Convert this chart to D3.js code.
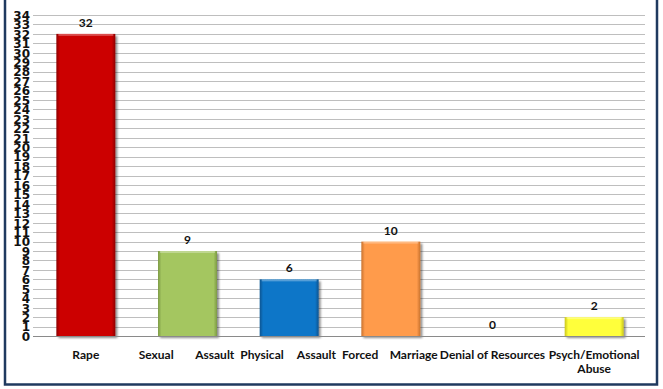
<!DOCTYPE html>
<html>
<head>
<meta charset="utf-8">
<script src="https://cdn.jsdelivr.net/npm/d3@7"></script>
<style>
  html, body { margin: 0; padding: 0; background: #fff; }
  svg { display: block; }
</style>
</head>
<body>
<svg id="chart" width="663" height="389"></svg>
<script>
// Reported cases by type of violence
const categories = ["Rape", "Sexual Assault", "Physical Assault", "Forced Marriage", "Denial of Resources", "Psych/Emotional Abuse"];
const values = [32, 9, 6, 10, 0, 2];
const barColors = ["#CC0000", "#A4C661", "#0A76C8", "#FF9B4C", "#FF9B4C", "#FFFF3A"];
const edgeColors = ["#8E0000", "#7C9A44", "#0A5390", "#C8722F", "#C8722F", "#C9C51C"];
const yTicks = d3.range(0, 35);

const svg = d3.select("#chart");
const W = 663, H = 389;

// Frame
svg.append("rect").attr("x", 0).attr("y", 0).attr("width", W).attr("height", H).attr("fill", "#fff");
svg.append("path")
  .attr("d", `M5,-2 V384.5 H657 V-2`)
  .attr("fill", "none").attr("stroke", "#1F3A5F").attr("stroke-width", 2.5);

const x = d3.scaleBand().domain(categories).range([35, 645]).paddingInner(0.42).paddingOuter(0.21);
const y = d3.scaleLinear().domain([0, 34]).range([336, 15]);

const rows = categories.map((c, i) => ({ c, v: values[i], i }));

// Shadow and bevel definitions
const defs = svg.append("defs");
const sh = defs.append("filter").attr("id", "shadow").attr("x", "-10%").attr("y", "-10%").attr("width", "130%").attr("height", "130%");
sh.append("feGaussianBlur").attr("in", "SourceAlpha").attr("stdDeviation", 1.2).attr("result", "b");
sh.append("feOffset").attr("in", "b").attr("dx", 1.5).attr("dy", 1.5).attr("result", "o");
sh.append("feComponentTransfer").attr("in", "o").attr("result", "o2")
  .append("feFuncA").attr("type", "linear").attr("slope", 0.45);
const mg = sh.append("feMerge");
mg.append("feMergeNode").attr("in", "o2");
mg.append("feMergeNode").attr("in", "SourceGraphic");

rows.forEach(d => {
  const g = defs.append("linearGradient").attr("id", "g" + d.i).attr("x1", 0).attr("x2", 1).attr("y1", 0).attr("y2", 0);
  g.append("stop").attr("offset", "0").attr("stop-color", edgeColors[d.i]);
  g.append("stop").attr("offset", "0.06").attr("stop-color", barColors[d.i]);
  g.append("stop").attr("offset", "0.94").attr("stop-color", barColors[d.i]);
  g.append("stop").attr("offset", "1").attr("stop-color", edgeColors[d.i]);
});

// Gridlines
svg.append("g").selectAll("line").data(yTicks.filter(d => d > 0)).join("line")
  .attr("x1", 33).attr("x2", 645)
  .attr("y1", d => Math.round(y(d)) + 0.5).attr("y2", d => Math.round(y(d)) + 0.5)
  .attr("stroke", "#BEBEBE").attr("stroke-width", 1);

// Y axis labels
const yAxis = d3.axisLeft(y).tickValues(yTicks).tickSize(0).tickPadding(0).tickFormat(d3.format("d"));
const ya = svg.append("g").attr("transform", "translate(30,0)").call(yAxis);
ya.select(".domain").remove();
ya.selectAll("text")
  .attr("font-family", "'DejaVu Sans', sans-serif").attr("font-weight", "bold")
  .attr("font-size", 12).attr("fill", "#111").attr("dy", "0.36em");

// Bars
const withBar = rows.filter(d => d.v > 0);
svg.append("g").selectAll("rect").data(withBar).join("rect")
  .attr("x", d => x(d.c))
  .attr("y", d => y(d.v))
  .attr("width", x.bandwidth())
  .attr("height", d => y(0) - y(d.v))
  .attr("fill", d => `url(#g${d.i})`)
  .attr("filter", "url(#shadow)");

// Top highlight of bars
svg.append("g").selectAll("rect").data(withBar).join("rect")
  .attr("x", d => x(d.c) + 2)
  .attr("y", d => y(d.v))
  .attr("width", x.bandwidth() - 4)
  .attr("height", 2)
  .attr("fill", "#fff").attr("opacity", 0.3);

// Baseline
svg.append("line").attr("x1", 33).attr("x2", 645)
  .attr("y1", Math.round(y(0)) + 0.5).attr("y2", Math.round(y(0)) + 0.5)
  .attr("stroke", "#8A8A8A").attr("stroke-width", 1);

// Value labels
svg.append("g").selectAll("text").data(rows).join("text")
  .attr("x", d => x(d.c) + x.bandwidth() / 2)
  .attr("y", d => y(d.v) - 7)
  .attr("text-anchor", "middle")
  .attr("font-family", "Lato, 'Open Sans', sans-serif").attr("font-weight", "bold")
  .attr("font-size", 12).attr("fill", "#111")
  .text(d => d.v);

// Category labels (two-word labels spread across the band)
const step = x.step();
const lab = svg.append("g")
  .attr("font-family", "Lato, 'Open Sans', sans-serif").attr("font-weight", "bold")
  .attr("font-size", 12).attr("fill", "#111");
rows.forEach(d => {
  const cx = x(d.c) + x.bandwidth() / 2;
  const left = cx - step / 2, right = cx + step / 2;
  const words = d.c.split(" ");
  if (d.c === "Rape" || d.c === "Denial of Resources") {
    lab.append("text").attr("x", cx).attr("y", 359).attr("text-anchor", "middle").text(d.c);
  } else if (d.c === "Psych/Emotional Abuse") {
    lab.append("text").attr("x", cx).attr("y", 359).attr("text-anchor", "middle").text("Psych/Emotional");
    lab.append("text").attr("x", cx).attr("y", 373).attr("text-anchor", "middle").text("Abuse");
  } else {
    lab.append("text").attr("x", left + 2).attr("y", 359).attr("text-anchor", "start").text(words[0]);
    lab.append("text").attr("x", right - 4).attr("y", 359).attr("text-anchor", "end").text(words[1]);
  }
});
</script>
</body>
</html>
